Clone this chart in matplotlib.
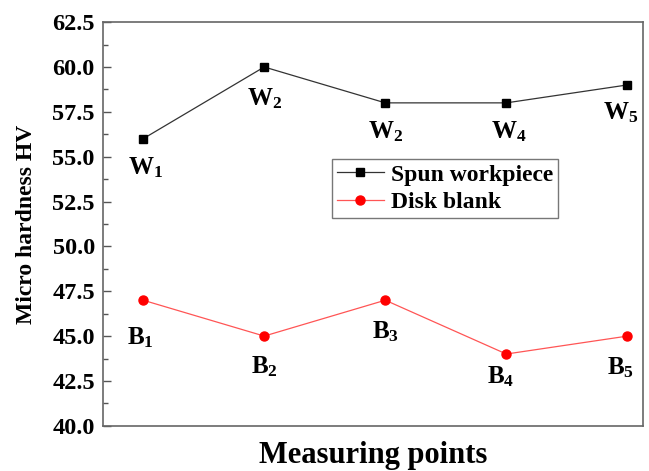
import matplotlib
matplotlib.use("Agg")
import matplotlib.pyplot as plt
from matplotlib.ticker import MultipleLocator

plt.rcParams['font.family'] = ['Liberation Serif', 'DejaVu Serif']
plt.rcParams['font.weight'] = 'bold'
plt.rcParams['mathtext.fontset'] = 'custom'
plt.rcParams['mathtext.rm'] = 'Liberation Serif:bold'
plt.rcParams['mathtext.bf'] = 'Liberation Serif:bold'
plt.rcParams['mathtext.it'] = 'Liberation Serif:bold'

points = [1, 2, 3, 4, 5]
spun = [56, 60, 58, 58, 59]
disk = [47, 45, 47, 44, 45]
spun_labels = ['W_1', 'W_2', 'W_2', 'W_4', 'W_5']
disk_labels = ['B_1', 'B_2', 'B_3', 'B_4', 'B_5']
spun_offsets = [(2, -21), (0, -23), (0, -21), (2, -21), (-5, -20)]
disk_offsets = [(-2, -27), (0, -22), (0, -23), (-4, -16), (-5, -23)]

fig = plt.figure(figsize=(6.49, 4.71), dpi=100)
ax = fig.add_axes([0.159, 0.096, 0.832, 0.857])

ax.plot(points, spun, color='#333333', lw=0.9, marker='s', ms=6,
        mfc='black', mec='black', label='Spun workpiece')
ax.plot(points, disk, color='#ff5555', lw=0.9, marker='o', ms=6.5,
        mfc='red', mec='red', label='Disk blank')

for x, y, lab, off in zip(points, spun, spun_labels, spun_offsets):
    ax.annotate(r'$\mathrm{' + lab + '}$', (x, y), xytext=off, textcoords='offset points',
                ha='center', va='center', fontsize=18)
for x, y, lab, off in zip(points, disk, disk_labels, disk_offsets):
    ax.annotate(r'$\mathrm{' + lab + '}$', (x, y), xytext=off, textcoords='offset points',
                ha='center', va='center', fontsize=18)

ax.set_xlim(0.67, 5.13)
ax.set_ylim(40, 62.5)
ax.yaxis.set_major_locator(MultipleLocator(2.5))
ax.yaxis.set_minor_locator(MultipleLocator(1.25))
ax.yaxis.set_major_formatter(matplotlib.ticker.FormatStrFormatter('%.1f'))
ax.set_xticks([])
ax.tick_params(axis='y', which='major', direction='in', length=6, width=1, labelsize=17.5,
               color='#555555', pad=6)
ax.tick_params(axis='y', which='minor', direction='in', length=3.5, width=1, color='#555555')
for s in ax.spines.values():
    s.set_color('#666666')
    s.set_linewidth(1.2)

ax.set_ylabel('Micro hardness HV', fontsize=17, fontweight='bold', labelpad=11)
ax.set_xlabel('Measuring points', fontsize=22, fontweight='bold', labelpad=11)

leg = ax.legend(loc='upper left', bbox_to_anchor=(0.424, 0.66), fontsize=17,
                frameon=True, fancybox=False, edgecolor='#555555', handlelength=2.0,
                borderpad=0.2, labelspacing=0.25, handletextpad=0.3, borderaxespad=0)
leg.get_frame().set_linewidth(1.0)

fig.savefig('out.png', dpi=100)
